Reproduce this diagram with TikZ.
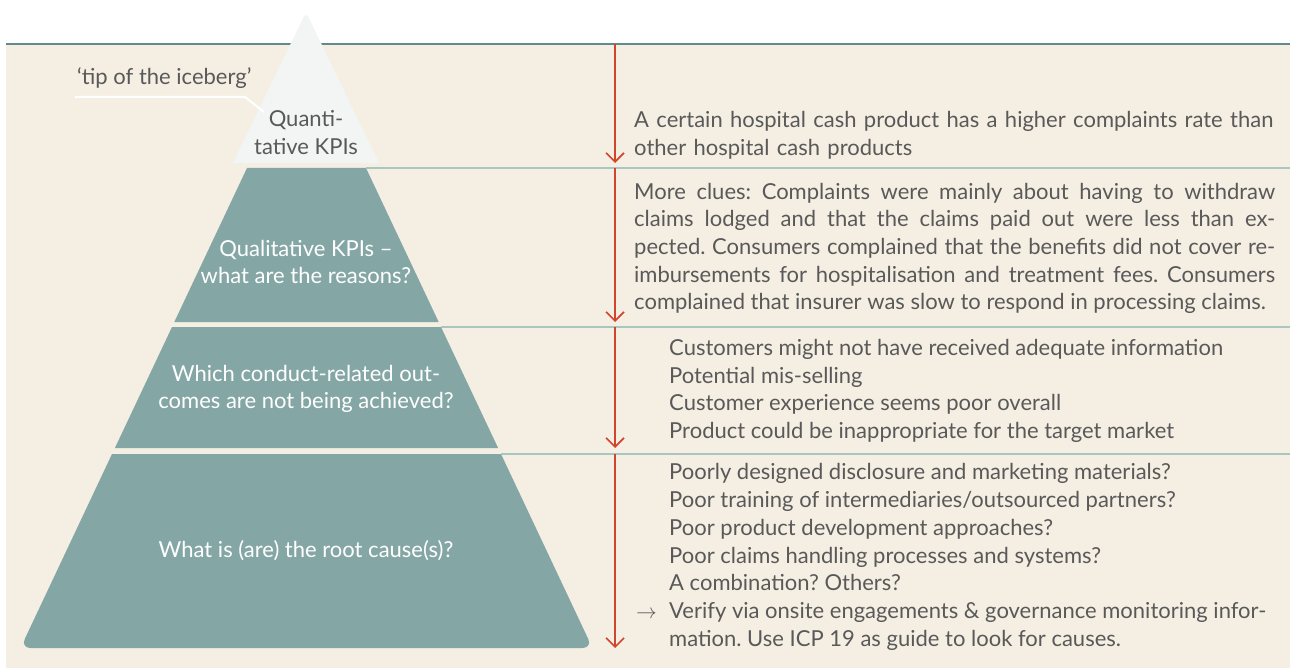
\documentclass[tikz,border=0pt]{standalone}
\usepackage{fontspec}
\setmainfont{Lato}
\usetikzlibrary{arrows.meta, positioning}

\definecolor{cream}{HTML}{F5EFE3}
\definecolor{pyrteal}{HTML}{84A7A6}
\definecolor{tipwhite}{HTML}{F2F5F3}
\definecolor{toprule}{HTML}{5F8B8E}
\definecolor{seprule}{HTML}{A9C6C1}
\definecolor{arrowred}{HTML}{D0462D}
\definecolor{txtgray}{HTML}{595959}

\begin{document}
\frenchspacing
\begin{tikzpicture}[
            x = 1pt, y = -1pt, % pixel-like units, y going down
            > = {Straight Barb[length=9pt, width=18pt]}, % arrow head style
            font = \fontsize{22}{27.7}\selectfont,
            text = txtgray
        ]

        \tikzstyle{layer}=[fill = pyrteal]
        \tikzstyle{laytext}=[text = white, align = center, inner sep = 0pt]
        \tikzstyle{body}=[anchor = west, inner sep = 0pt]
        \tikzstyle{divider}=[draw = seprule, line width = 1.5pt]
        \tikzstyle{flow}=[->, draw = arrowred, line width = 1.6pt]
        \tikzstyle{leader}=[draw = white, line width = 2pt]

        \useasboundingbox (0,0) rectangle (1292,668);
        \fill[cream] (6,44) rectangle (1290,668);
        \draw[toprule, line width = 2pt] (6,44) -- (1290,44);

        % the pyramid
        \fill[layer] (247,168) -- (366,168) -- (438.7,322) -- (174.3,322) -- cycle;
        \fill[layer] (172,327) -- (441,327) -- (498.1,448) -- (114.9,448) -- cycle;
        \fill[layer] (112,454) -- (501,454) [rounded corners=10pt] -- (592.5,648) -- (20.5,648) [sharp corners] -- cycle;
        \fill[tipwhite] (233,163) [rounded corners=5pt] -- (306,12) [sharp corners] -- (379,163) -- cycle;

        \draw[divider] (366,168) -- (1290,168);
        \draw[divider] (441,327) -- (1290,327);
        \draw[divider] (501,454) -- (1290,454);

        \node[laytext, text = txtgray] (quant) at (306,132.5) {Quanti-\\tative KPIs};
        \node[laytext] (qual) at (306,262) {Qualitative KPIs --\\what are the reasons?};
        \node[laytext] (conduct) at (306,389) {Which conduct-related out-\\comes are not being achieved?};
        \node[laytext] (root) at (306,551) {What is (are) the root cause(s)?};

        \node[body] (iceberg) at (77,78) {`tip of the iceberg'};
        \coordinate (lead1) at (75,97);
        \coordinate (lead2) at (245,97);
        \coordinate (lead3) at (264,112);
        \draw[leader] (lead1) -- (lead2) -- (lead3);

        % the arrows going down
        \foreach \a/\b [count=\i] in {44/163, 168/322, 327/448, 454/648} {
            \coordinate (s\i) at (615,\a);
            \coordinate (e\i) at (615,\b);
            \draw[flow] (s\i) -- (e\i);
        }

        \node[body, text width = 680pt, align = left] (clue1) at (634,135.5)
            {A certain hospital cash product has a higher complaints rate than\\
             other hospital cash products};
        \node[body, text width = 641pt, align = justify] (clue2) at (634,248.5)
            {\parfillskip=0pt More clues: Complaints were mainly about having to withdraw\linebreak
             claims lodged and that the claims paid out were less than ex-\linebreak
             pected. Consumers complained that the benefits did not cover re-\linebreak
             imbursements for hospitalisation and treatment fees. Consumers\linebreak
             complained that insurer was slow to respond in processing claims.};
        \node[body, align = left] (clue3) at (669,391)
            {Customers might not have received adequate information\\
             Potential mis-selling\\
             Customer experience seems poor overall\\
             Product could be inappropriate for the target market};
        \node[body, align = left] (clue4) at (636,557)
            {\hspace*{33pt}Poorly designed disclosure and marketing materials?\\
             \hspace*{33pt}Poor training of intermediaries/outsourced partners?\\
             \hspace*{33pt}Poor product development approaches?\\
             \hspace*{33pt}Poor claims handling processes and systems?\\
             \hspace*{33pt}A combination? Others?\\
             \makebox[33pt][l]{$\rightarrow$}Verify via onsite engagements \& governance monitoring infor-\\
             \hspace*{33pt}mation. Use ICP 19 as guide to look for causes.};

\end{tikzpicture}
\end{document}
